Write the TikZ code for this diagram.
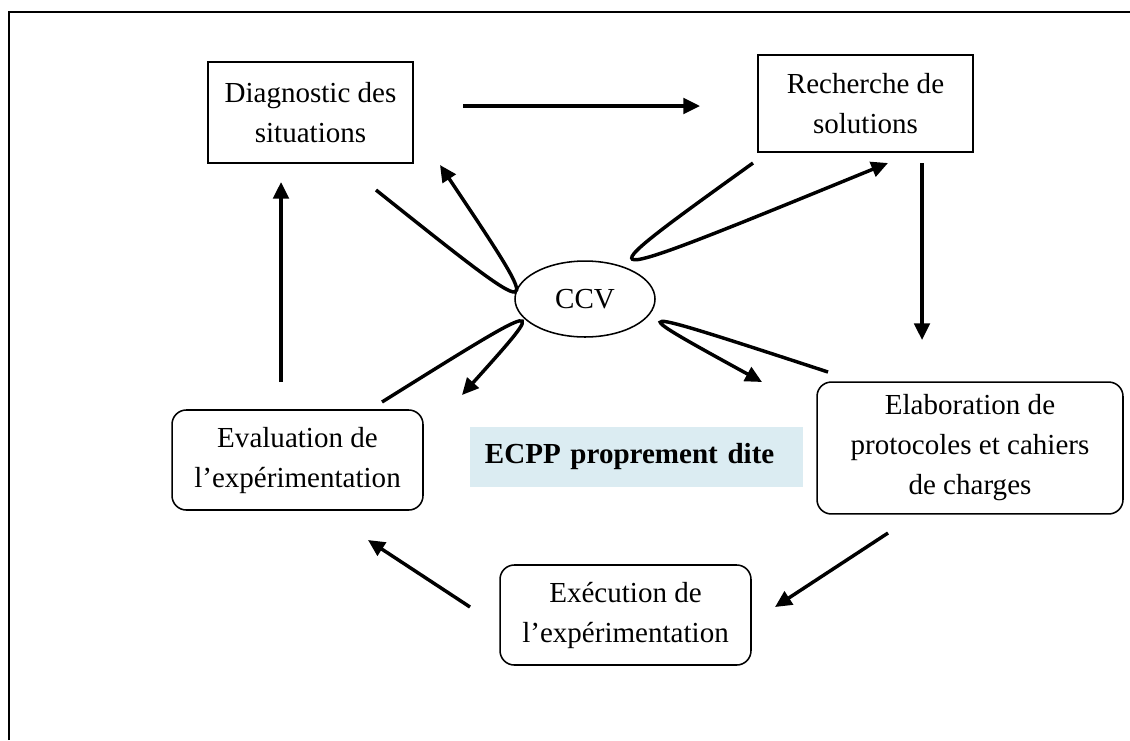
\documentclass[tikz,border=0pt]{standalone}
\usepackage{fontspec}
\setmainfont{Liberation Serif}
\usetikzlibrary{arrows.meta,shapes.geometric}
\definecolor{ecppblue}{RGB}{219,236,242}
\begin{document}
\begin{tikzpicture}[x=0.42pt,y=-0.42pt,
  txt/.style={font=\fontsize{12.2}{16.8}\selectfont, align=center, inner sep=0pt},
  sqbox/.style={txt, draw, line width=0.65pt},
  rbox/.style={txt, draw, line width=0.65pt, rounded corners=6pt},
  arr/.style={line width=1.45pt, -{Triangle[length=7pt,width=6.5pt]}},
  frameline/.style={line width=0.55pt}
]
\useasboundingbox (0,0) rectangle (1130,740);
% frame
\coordinate (fbl) at (9,740);
\coordinate (ftl) at (9,12);
\coordinate (ftr) at (1130,12);
\draw[frameline] (fbl) -- (ftl) -- (ftr);

% nodes
\node[sqbox, minimum width=86.1pt, minimum height=42.4pt] (diag) at (310.5,112.5) {Diagnostic des\\situations};
\node[sqbox, minimum width=90.3pt, minimum height=40.7pt] (rech) at (865.5,103.5) {Recherche de\\solutions};
\node[rbox, minimum width=128.5pt, minimum height=55.4pt] (elab) at (970,448) {Elaboration de\\protocoles et cahiers\\de charges};
\node[rbox, minimum width=105.4pt, minimum height=42pt] (eval) at (297.5,460) {Evaluation de\\l'expérimentation};
\node[rbox, minimum width=105.4pt, minimum height=42pt] (exec) at (625.5,615) {Exécution de\\l'expérimentation};
\node[fill=ecppblue, minimum height=25.2pt, inner xsep=6.3pt, inner ysep=0pt, text width=127.3pt, align=left, font=\fontsize{12.2}{14}\selectfont\bfseries] (ecpp) at (636.5,457) {ECPP proprement dite};
\node[txt, ellipse, draw, line width=0.65pt, minimum width=58.8pt, minimum height=31.9pt] (ccv) at (585,299) {CCV};

% connector end points
\coordinate (a1s) at (463,106);
\coordinate (a1e) at (700,106);
\coordinate (a2s) at (922,163);
\coordinate (a2e) at (922,340);
\coordinate (a3s) at (888,533);
\coordinate (a3e) at (775,607);
\coordinate (a4s) at (470,607);
\coordinate (a4e) at (368,540);
\coordinate (a5s) at (281,382);
\coordinate (a5e) at (281,182);

\coordinate (d1) at (376,190);
\coordinate (d2) at (440,165);
\coordinate (r1) at (753,163);
\coordinate (r2) at (888,163);
\coordinate (v1) at (382,402);
\coordinate (v2) at (462,395);
\coordinate (e1) at (828,372);
\coordinate (e2) at (762,382);

% cycle arrows
\draw[arr] (a1s) -- (a1e);
\draw[arr] (a2s) -- (a2e);
\draw[arr] (a3s) -- (a3e);
\draw[arr] (a4s) -- (a4e);
\draw[arr] (a5s) -- (a5e);

% loops through CCV
\draw[arr] (d1) .. controls (549,328) and (549,328) .. (d2);
\draw[arr] (r1) .. controls (575,291) and (575,291) .. (r2);
\draw[arr] (v1) .. controls (550,297) and (550,297) .. (v2);
\draw[arr] (e1) .. controls (620,304) and (620,304) .. (e2);
\end{tikzpicture}
\end{document}
